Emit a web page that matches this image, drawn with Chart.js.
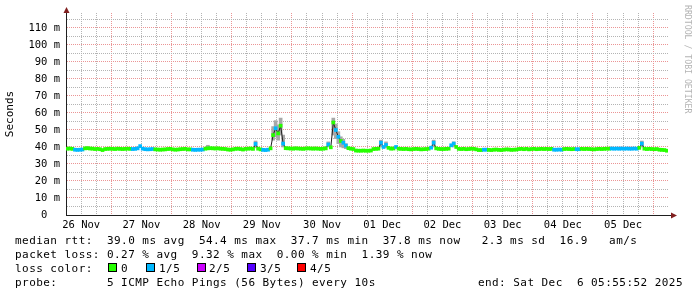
<!DOCTYPE html>
<html>
<head>
<meta charset="utf-8">
<script src="https://cdn.jsdelivr.net/npm/chart.js@4/dist/chart.umd.min.js"></script>
<style>
  html, body { margin: 0; padding: 0; background: #fff; }
  #wrap { position: relative; width: 697px; height: 297px; overflow: hidden; background: #fff; }
  #chart { position: absolute; left: 0; top: 0; }
  .txt { position: absolute; font: 11px 'DejaVu Sans Mono', monospace; letter-spacing: 0.45px; white-space: pre; color: #000; line-height: 14px; }
  .box { position: absolute; top: 263px; width: 9px; height: 9px; box-sizing: border-box; border: 1px solid #000; }
  #credit { position: absolute; left: 683px; top: 5px; writing-mode: vertical-rl; font: 8.2px 'DejaVu Sans Mono', monospace; color: #b4b4b4; white-space: pre; line-height: 10px; }
</style>
</head>
<body>
<div id="wrap">
  <canvas id="chart" width="697" height="297"></canvas>
  <div id="credit">RRDTOOL / TOBI OETIKER</div>
  <div class="txt" style="left:15px;top:234px">median rtt:  39.0 ms avg  54.4 ms max  37.7 ms min  37.8 ms now   2.3 ms sd  16.9   am/s</div>
  <div class="txt" style="left:15px;top:248px">packet loss: 0.27 % avg  9.32 % max  0.00 % min  1.39 % now</div>
  <div class="txt" style="left:15px;top:262px">loss color:</div>
  <div id="legend"></div>
  <div class="txt" style="left:15px;top:276px">probe:       5 ICMP Echo Pings (56 Bytes) every 10s</div>
  <div class="txt" style="right:14px;top:276px">end: Sat Dec  6 05:55:52 2025</div>
</div>
<script>
// day labels, centred on noon of each day
const dayLabels = ['26 Nov', '27 Nov', '28 Nov', '29 Nov', '30 Nov', '01 Dec', '02 Dec', '03 Dec', '04 Dec', '05 Dec'];

// hours after 26 Nov 00:00
const viewStart = 5.93;
const viewEnd = 245.93;
const firstHour = 6.5;

// median rtt (ms), one value per hour
const median = [
  39.0, 39.1, 38.9, 38.4, 38.3, 38.4, 38.5, 39.2, 39.3, 39.1, 39.0, 38.8, 38.9, 38.7, 38.2, 38.8, 38.9, 39.0, 38.9, 38.8, 39.0, 38.9, 38.8, 38.9,
  39.0, 38.9, 38.8, 38.9, 39.2, 40.5, 39.0, 38.7, 38.6, 38.7, 38.8, 38.6, 38.5, 38.4, 38.5, 38.6, 38.8, 38.9, 38.6, 38.4, 38.5, 38.7, 38.8, 38.9,
  38.6, 38.6, 38.4, 38.3, 38.4, 38.4, 38.5, 39.0, 39.2, 39.3, 39.2, 39.1, 39.2, 39.0, 38.9, 38.8, 38.5, 38.4, 38.6, 38.9, 39.0, 38.8, 38.5, 38.9,
  39.0, 39.1, 38.9, 41.8, 39.0, 38.6, 38.3, 38.2, 38.4, 39.2, 47.0, 51.0, 48.0, 52.5, 42.0, 39.3, 39.2, 39.1, 39.0, 39.2, 39.1, 39.0, 38.9, 39.1,
  39.2, 39.1, 39.0, 39.1, 39.0, 38.9, 39.0, 39.2, 41.5, 39.8, 54.4, 50.0, 46.0, 43.5, 42.5, 40.8, 39.3, 39.0, 38.8, 37.9, 37.8, 37.8, 37.9, 37.8,
  37.8, 37.9, 38.8, 38.9, 39.0, 42.5, 40.0, 41.2, 39.5, 39.0, 39.1, 40.0, 39.0, 38.9, 38.8, 38.9, 38.7, 38.6, 38.8, 38.9, 38.8, 38.6, 38.7, 38.8,
  39.0, 39.6, 42.5, 39.2, 38.9, 38.8, 38.8, 38.9, 39.0, 41.0, 42.0, 40.0, 38.9, 38.8, 38.9, 38.7, 38.8, 39.0, 38.9, 38.6, 38.2, 38.2, 38.4, 38.4,
  38.3, 38.2, 38.4, 38.5, 38.3, 38.2, 38.4, 38.6, 38.5, 38.3, 38.4, 38.5, 38.8, 38.9, 38.7, 38.9, 38.6, 38.8, 38.9, 38.7, 38.8, 38.9, 38.8, 38.9,
  38.8, 38.9, 38.4, 38.4, 38.5, 38.4, 38.8, 38.9, 38.8, 38.7, 38.8, 38.7, 38.7, 38.9, 38.8, 38.9, 38.8, 38.7, 38.6, 38.8, 38.9, 38.8, 38.9, 39.0,
  39.0, 39.1, 39.0, 39.1, 39.0, 39.1, 39.0, 39.1, 39.0, 39.0, 39.1, 39.0, 39.5, 42.0, 39.0, 38.8, 38.9, 38.8, 38.7, 38.8, 38.4, 38.3, 38.2, 37.8
];

// packet loss per hour, as index into lossColors (0 = 0/5, 1 = 1/5, ...)
const loss = [
  0, 0, 0, 1, 1, 1, 1, 0, 0, 0, 0, 0, 0, 0, 0, 0, 0, 0, 0, 0, 0, 0, 0, 0,
  0, 0, 1, 1, 1, 1, 1, 1, 1, 1, 1, 0, 0, 0, 0, 0, 0, 0, 0, 0, 0, 0, 0, 0,
  0, 0, 1, 1, 1, 1, 1, 0, 0, 0, 0, 0, 0, 0, 0, 0, 0, 0, 0, 0, 0, 0, 0, 0,
  0, 0, 0, 1, 0, 0, 1, 1, 1, 0, 0, 1, 0, 0, 1, 0, 0, 0, 0, 0, 0, 0, 0, 0,
  0, 0, 0, 0, 0, 0, 0, 0, 1, 0, 0, 1, 1, 0, 1, 1, 0, 0, 0, 0, 0, 0, 0, 0,
  0, 0, 0, 0, 0, 1, 1, 1, 0, 0, 0, 1, 0, 0, 0, 0, 0, 0, 0, 0, 0, 0, 0, 0,
  0, 1, 1, 0, 0, 0, 0, 0, 0, 1, 1, 0, 0, 0, 0, 0, 0, 0, 0, 0, 0, 0, 1, 1,
  0, 0, 0, 0, 0, 0, 0, 0, 0, 0, 0, 0, 0, 0, 0, 0, 0, 0, 0, 0, 0, 0, 0, 0,
  0, 0, 1, 1, 1, 1, 0, 0, 0, 0, 0, 1, 1, 0, 0, 0, 0, 0, 0, 0, 0, 0, 0, 0,
  0, 1, 1, 1, 1, 1, 1, 1, 1, 1, 1, 1, 0, 1, 0, 0, 0, 0, 0, 0, 0, 0, 0, 0
];

// smoke (spread of the pings) where it shows past the median band
const smokeIdx = [56, 75, 82, 83, 84, 85, 86, 104, 106, 107, 108, 109, 110, 111, 125, 127, 146, 154, 229];
const smokeLo  = [38.5, 39.5, 44, 46, 44, 47, 40, 40, 47, 45, 42, 40, 39.5, 39, 40, 39.5, 40, 40, 40];
const smokeHi  = [41, 43.5, 52, 55.5, 53, 57, 47, 43, 57, 53.5, 49, 46, 44.5, 42, 44, 43, 44, 43, 43.5];

const lossLabels = ['0', '1/5', '2/5', '3/5', '4/5'];
const lossColors = ['#26ff00', '#00b8ff', '#cc00ff', '#5500ff', '#ff0000'];

const yTicks = [0, 5, 10, 15, 20, 25, 30, 35, 40, 45, 50, 55, 60, 65, 70, 75, 80, 85, 90, 95, 100, 105, 110, 115];

// legend swatches
const boxLeft = [108, 146, 197, 247, 297];
const labelLeft = [121, 159, 209, 260, 310];
const legend = document.getElementById('legend');
lossLabels.forEach((lbl, i) => {
    legend.insertAdjacentHTML('beforeend',
        `<div class="box" style="left:${boxLeft[i]}px;background:${lossColors[i]}"></div>` +
        `<div class="txt" style="left:${labelLeft[i]}px;top:262px">${lbl}</div>`);
});

const hours = median.map((_, i) => firstHour + i);

const GRID = '#b4b4b4';
const MGRID = '#eb9595';
const AXIS = '#1f1f1f';
const ARROW = '#801f1f';

const axisArrows = {
    id: 'axisArrows',
    afterDraw(chart) {
        const { ctx, chartArea: a } = chart;
        ctx.save();
        ctx.strokeStyle = AXIS;
        ctx.lineWidth = 1;
        ctx.beginPath();
        ctx.moveTo(a.right, a.bottom + 0.5);
        ctx.lineTo(a.right + 4, a.bottom + 0.5);
        ctx.stroke();
        ctx.fillStyle = ARROW;
        ctx.beginPath();
        ctx.moveTo(a.left + 0.5, a.top - 6);
        ctx.lineTo(a.left - 2.5, a.top);
        ctx.lineTo(a.left + 3.5, a.top);
        ctx.closePath();
        ctx.fill();
        ctx.beginPath();
        ctx.moveTo(a.right + 9, a.bottom + 0.5);
        ctx.lineTo(a.right + 3, a.bottom - 2.5);
        ctx.lineTo(a.right + 3, a.bottom + 3.5);
        ctx.closePath();
        ctx.fill();
        ctx.restore();
    }
};

new Chart(document.getElementById('chart'), {
    type: 'bar',
    data: {
        datasets: [
            {
                type: 'bar',
                label: 'smoke',
                data: smokeIdx.map((k, j) => ({ x: hours[k], y: [smokeLo[j], smokeHi[j]] })),
                backgroundColor: '#a8a8a8',
                grouped: false,
                barThickness: 3,
                order: 3
            },
            {
                type: 'line',
                label: 'median',
                data: median.map((v, i) => ({ x: hours[i], y: v })),
                borderColor: AXIS,
                borderWidth: 1,
                pointRadius: 0,
                tension: 0,
                order: 2
            },
            {
                type: 'bar',
                label: 'loss',
                data: median.map((v, i) => ({ x: hours[i], y: [v - 0.9, v + 0.9] })),
                backgroundColor: loss.map(l => lossColors[l]),
                grouped: false,
                barThickness: 3,
                order: 1
            }
        ]
    },
    options: {
        responsive: false,
        animation: false,
        layout: { padding: { top: 13, right: 29, left: 0, bottom: 0 } },
        plugins: { legend: { display: false }, tooltip: { enabled: false } },
        scales: {
            x: {
                type: 'linear',
                min: viewStart,
                max: viewEnd,
                offset: false,
                afterBuildTicks: scale => {
                    const t = [];
                    for (let h = Math.ceil(viewStart / 6) * 6; h <= viewEnd; h += 6) t.push({ value: h });
                    scale.ticks = t;
                },
                afterFit: scale => { scale.height = 82; },
                grid: {
                    offset: false,
                    drawTicks: false,
                    lineWidth: 1,
                    color: c => (c.tick && c.tick.value % 24 === 0 ? MGRID : GRID)
                },
                border: { display: true, color: AXIS, width: 1, dash: [1, 1] },
                ticks: {
                    autoSkip: false,
                    maxRotation: 0,
                    padding: 4,
                    color: '#000',
                    font: { family: 'DejaVu Sans Mono', size: 10.5 },
                    callback: v => (v % 24 === 12 ? dayLabels[(v - 12) / 24] : '')
                }
            },
            y: {
                min: 0,
                max: 118.8,
                afterBuildTicks: scale => { scale.ticks = yTicks.map(v => ({ value: v })); },
                afterFit: scale => { scale.width = 66; },
                grid: {
                    drawTicks: false,
                    lineWidth: 1,
                    color: c => (c.tick && c.tick.value % 10 === 0 ? MGRID : GRID)
                },
                border: { display: true, color: AXIS, width: 1, dash: [1, 1] },
                title: {
                    display: true,
                    text: 'Seconds',
                    color: '#000',
                    font: { family: 'DejaVu Sans Mono', size: 11 },
                    padding: { top: 4, bottom: 0 }
                },
                ticks: {
                    autoSkip: false,
                    padding: 6,
                    color: '#000',
                    font: { family: 'DejaVu Sans Mono', size: 10.5 },
                    callback: v => (v % 10 !== 0 ? '' : v === 0 ? '0  ' : String(v).padStart(3, ' ') + ' m')
                }
            }
        }
    },
    plugins: [axisArrows]
});
</script>
</body>
</html>
